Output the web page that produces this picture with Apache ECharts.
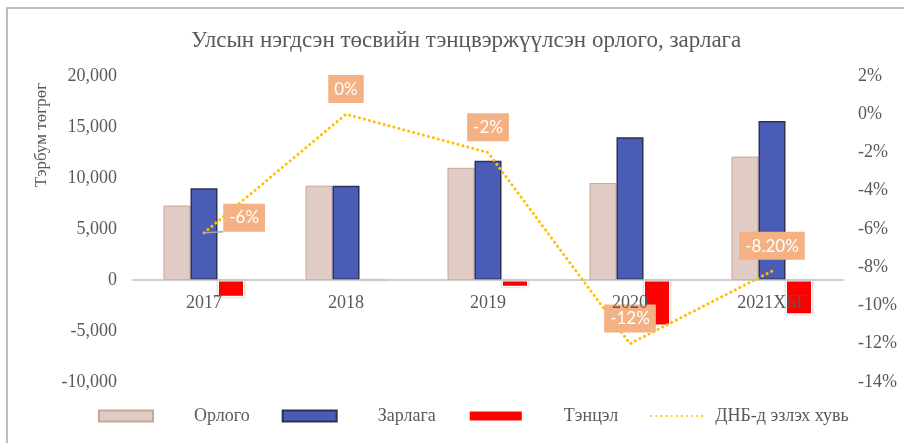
<!DOCTYPE html>
<html>
<head>
<meta charset="utf-8">
<script src="https://cdn.jsdelivr.net/npm/echarts@6/dist/echarts.min.js"></script>
<style>
html,body{margin:0;padding:0;background:#fff;}
#c{width:904px;height:443px;}
</style>
</head>
<body>
<div id="c"></div>
<script>
const categories = ['2017', '2018', '2019', '2020', '2021ХБГ'];
const revenue = [7300, 9250, 11000, 9500, 12100];
const expenditure = [9000, 9250, 11700, 14000, 15600];
const balance = [-1700, -40, -700, -4500, -3400];
const gdpShare = [-6.2, 0, -2, -12, -8.2];
const gdpLabels = ['-6%', '0%', '-2%', '-12%', '-8.20%'];
const leftTicks = [-10000, -5000, 0, 5000, 10000, 15000, 20000];
const rightTicks = [-14, -12, -10, -8, -6, -4, -2, 0, 2];

const serif = '"Liberation Serif","DejaVu Serif",serif';
const grey = '#595959';

const chart = echarts.init(document.getElementById('c'), null, {renderer: 'canvas'});

const lineData = gdpShare.map((v, i) => {
  const item = {value: v};
  if (i === 0) {
    item.label = {position: 'right', distance: 19, offset: [0, -15]};
    item.labelLine = {show: true, lineStyle: {color: '#A6A6A6', width: 1.5}};
  }
  return item;
});

chart.setOption({
  backgroundColor: '#fff',
  animation: false,
  title: {
    text: 'Улсын нэгдсэн төсвийн тэнцвэржүүлсэн орлого, зарлага',
    left: 186,
    top: 24,
    textStyle: {fontFamily: serif, fontSize: 23, fontWeight: 'normal', color: grey}
  },
  graphic: [
    {
      type: 'rect',
      shape: {x: 7, y: 8, width: 920, height: 460},
      style: {fill: 'none', stroke: '#A6A6A6', lineWidth: 1.5},
      silent: true
    },
    {
      type: 'text',
      x: 42, y: 135,
      rotation: Math.PI / 2,
      style: {
        text: 'Тэрбум төгрөг',
        fontFamily: serif, fontSize: 17, fill: grey,
        align: 'center', verticalAlign: 'middle'
      }
    }
  ],
  legend: {
    left: 93,
    top: 402,
    itemWidth: 54,
    itemHeight: 11,
    itemGap: 32,
    textStyle: {fontFamily: serif, fontSize: 18, color: grey, padding: [0, 0, 0, 36]},
    data: [
      {name: 'Орлого', icon: 'rect'},
      {name: 'Зарлага', icon: 'rect'},
      {name: 'Тэнцэл', icon: 'rect'},
      {name: 'ДНБ-д эзлэх хувь', itemStyle: {opacity: 0}, textStyle: {padding: [0, 0, 0, 5]}}
    ]
  },
  grid: {left: 133, right: 61, top: 76, bottom: 61},
  xAxis: {
    type: 'category',
    data: categories,
    zlevel: 1,
    axisLine: {show: true, onZero: true, lineStyle: {color: '#BFBFBF', width: 1.5}},
    axisTick: {show: false},
    axisLabel: {fontFamily: serif, fontSize: 18, color: grey, margin: -88}
  },
  yAxis: [
    {
      type: 'value',
      min: leftTicks[0], max: leftTicks[leftTicks.length - 1], interval: 5000,
      splitLine: {show: false},
      axisLine: {show: false},
      axisTick: {show: false},
      axisLabel: {
        fontFamily: serif, fontSize: 18, color: grey, margin: 16,
        formatter: v => v.toLocaleString('en-US')
      }
    },
    {
      type: 'value',
      min: rightTicks[0], max: rightTicks[rightTicks.length - 1], interval: 2,
      splitLine: {show: false},
      axisLine: {show: false},
      axisTick: {show: false},
      axisLabel: {
        fontFamily: serif, fontSize: 18, color: grey, margin: 15,
        formatter: v => v + '%'
      }
    }
  ],
  series: [
    {
      name: 'Орлого', type: 'bar', data: revenue,
      barWidth: 27, barGap: '0%',
      itemStyle: {color: '#E0CCC4', borderColor: '#C9A593', borderWidth: 1}
    },
    {
      name: 'Зарлага', type: 'bar', data: expenditure,
      barWidth: 27, barGap: '0%',
      itemStyle: {color: '#4A5CB5', borderColor: '#2A3256', borderWidth: 1.5}
    },
    {
      name: 'Тэнцэл', type: 'bar', data: balance,
      barWidth: 27, barGap: '0%',
      itemStyle: {
        color: '#FF0000', borderColor: '#FFFFFF', borderWidth: 1.5,
        shadowColor: 'rgba(0,0,0,0.35)', shadowBlur: 1.5
      }
    },
    {
      name: 'ДНБ-д эзлэх хувь', type: 'line', yAxisIndex: 1,
      data: lineData,
      symbol: 'circle',
      symbolSize: 0.5,
      showSymbol: true,
      z: 7,
      lineStyle: {color: '#FFC000', width: 3, type: [0.1, 5], cap: 'round'},
      itemStyle: {color: '#FFC000'},
      label: {
        show: true,
        position: 'top',
        distance: 11,
        formatter: p => gdpLabels[p.dataIndex],
        backgroundColor: '#F4B183',
        color: '#FFFFFF',
        fontFamily: 'Lato, "Liberation Sans", sans-serif',
        fontSize: 17,
        padding: [6, 6, 5, 6]
      }
    }
  ]
});
</script>
</body>
</html>
